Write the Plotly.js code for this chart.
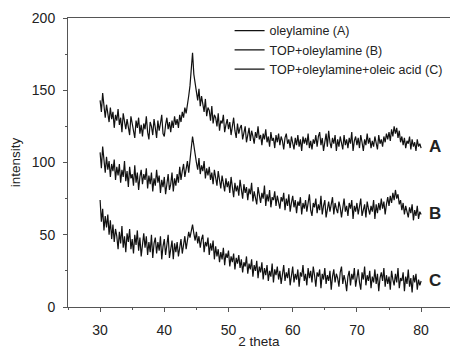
<!DOCTYPE html>
<html>
<head>
<meta charset="utf-8">
<script src="https://cdn.plot.ly/plotly-3.0.1.min.js"></script>
<style>html,body{margin:0;padding:0;background:#fff;}#chart{width:450px;height:349px;}</style>
</head>
<body>
<div id="chart"></div>
<script>
// 2-theta grid: 30 to 80 in steps of 0.2
const thetaStart = 30;
const thetaStep = 0.2;

const seriesNames = ["oleylamine (A)", "TOP+oleylamine (B)", "TOP+oleylamine+oleic acid (C)"];
const curveLabels = ["A", "B", "C"];
const labelY = [111, 65, 18];

const intensityA = [
143,135,148,137,131, 140,133,128,138,130, 135,124,133,129,137, 126,131,121,134,127,
123,130,125,119,132, 128,122,117,129,124, 131,120,126,118,127, 123,132,121,116,128,
125,119,130,124,117, 129,122,127,133,120, 118,126,131,123,128, 121,129,124,132,126,
130,124,133,128,135, 131,138,134,142,146, 153,168,176,161,154, 149,143,151,139,146,
141,135,144,132,138, 136,129,139,127,133, 131,125,134,122,129, 127,133,121,126,130,
123,128,119,125,131, 122,117,127,120,124, 126,116,121,125,114, 120,124,115,122,118,
113,121,117,125,116, 119,112,120,116,123, 114,118,111,121,115, 117,110,119,114,120,
112,118,115,109,117, 120,113,116,110,118, 114,109,117,112,119, 111,116,108,118,113,
117,112,120,110,115, 109,116,113,119,111, 118,121,112,117,108, 115,120,111,122,114,
110,117,113,119,108, 116,111,118,114,109, 119,112,116,110,117, 113,121,108,115,118,
112,117,110,119,114, 108,116,112,120,113, 117,110,115,111,118, 114,109,119,113,116,
111,118,114,120,116, 121,115,123,118,125, 120,124,117,122,114, 118,112,117,110,115,
113,118,109,116,111, 114,108,116,111,113,
110
];

const intensityB = [
107,96,111,100,93, 104,95,101,90,99, 94,102,88,97,91, 99,86,95,90,101,
87,94,83,97,89, 92,84,98,86,93, 81,90,95,85,92, 88,96,82,91,85,
93,80,89,84,95, 86,91,79,88,83, 90,78,87,92,81, 85,93,80,89,84,
92,86,97,88,94, 99,90,96,101,93, 104,110,118,113,106, 100,95,103,92,98,
94,101,89,96,91, 97,88,93,85,95, 90,84,94,87,82, 91,85,80,89,83,
87,79,90,82,76, 86,80,84,77,88, 81,75,85,79,83, 74,82,78,86,73,
80,76,71,83,77, 72,79,75,84,70, 78,73,81,69,76, 74,80,70,77,72,
68,76,73,79,67, 75,70,78,66,72, 77,69,74,65,73, 70,76,64,72,68,
74,66,71,78,67, 63,72,69,75,65, 71,67,77,64,70, 74,62,69,73,66,
70,76,64,72,68, 65,73,69,62,71, 75,66,70,63,72, 68,74,61,70,66,
72,64,69,75,63, 67,71,62,73,68, 64,70,66,74,61, 71,65,72,67,75,
68,73,64,71,76, 70,77,72,79,74, 81,75,78,71,74, 67,72,64,70,66,
62,69,65,71,60, 67,63,70,61,66,
64
];

const intensityC = [
74,59,68,53,63, 55,64,50,60,47, 57,45,54,49,40, 52,44,56,41,49,
38,51,45,54,40, 47,37,50,43,53, 39,48,35,46,51, 41,49,36,45,38,
50,34,44,48,37, 45,39,49,33,42, 47,36,43,50,34, 40,46,33,44,38,
45,35,42,47,37, 43,49,40,47,52, 48,54,57,51,46, 52,44,49,41,47,
50,38,45,42,48, 36,44,39,46,33, 42,35,40,31,38, 33,41,29,37,34,
39,28,35,31,37, 26,34,30,36,27, 33,24,31,28,35, 23,30,26,33,21,
29,25,32,20,28, 24,31,19,27,22, 29,18,25,21,30, 17,26,22,28,19,
25,16,23,29,18, 24,20,27,15,22, 28,17,23,19,26, 14,24,21,29,18,
23,15,27,20,25, 17,28,22,14,24, 21,26,13,23,19, 27,16,22,18,25,
12,21,26,17,23, 20,14,24,28,16, 22,18,11,21,25, 15,23,19,27,14,
21,26,17,12,24, 19,28,15,22,18, 25,13,21,17,26, 16,23,11,20,24,
18,27,14,22,16, 21,12,25,19,15, 23,17,27,13,20, 18,24,11,21,16,
26,14,20,10,22, 17,23,12,19,15,
18
];

const xTicks = [30, 40, 50, 60, 70, 80];
const yTicks = [0, 50, 100, 150, 200];

const thetas = intensityA.map((_, i) => +(thetaStart + i * thetaStep).toFixed(2));
const allSeries = [intensityA, intensityB, intensityC];

const FONT = "Liberation Sans, Arial, Helvetica, sans-serif";

const traces = allSeries.map((vals, k) => ({
  x: thetas,
  y: vals,
  type: "scatter",
  mode: "lines",
  name: seriesNames[k],
  line: {color: "#111", width: 1.2}
}));

const annotations = curveLabels.map((lab, k) => ({
  x: 82.2, y: labelY[k], xref: "x", yref: "y",
  text: "<b>" + lab + "</b>", showarrow: false,
  font: {family: FONT, size: 17, color: "#222"}
}));

const layout = {
  width: 450, height: 349,
  margin: {l: 68, r: 0, t: 18, b: 42},
  paper_bgcolor: "#fff", plot_bgcolor: "#fff",
  showlegend: true,
  legend: {
    x: 0.423, y: 1.007, xanchor: "left", yanchor: "top",
    font: {family: FONT, size: 12.5, color: "#222"},
    bgcolor: "rgba(0,0,0,0)", itemwidth: 30, tracegroupgap: 0
  },
  xaxis: {
    range: [25, 84.5],
    tickvals: xTicks,
    ticks: "outside", ticklen: 4, tickcolor: "#555",
    showline: true, linecolor: "#555", linewidth: 1, mirror: true,
    showgrid: false, zeroline: false,
    tickfont: {family: FONT, size: 14, color: "#222"},
    ticklabelstandoff: 6,
    minor: {dtick: 5, tick0: 0, ticks: "outside", ticklen: 2, tickcolor: "#555", showgrid: false},
    title: {text: "2 theta", font: {family: FONT, size: 13.5, color: "#222"}, standoff: 6}
  },
  yaxis: {
    range: [0, 200],
    tickvals: yTicks,
    ticks: "outside", ticklen: 4, tickcolor: "#555",
    showline: true, linecolor: "#555", linewidth: 1,
    showgrid: false, zeroline: false,
    tickfont: {family: FONT, size: 14, color: "#222"},
    ticklabelstandoff: 5,
    minor: {dtick: 25, tick0: 0, ticks: "outside", ticklen: 2, tickcolor: "#555", showgrid: false},
    title: {text: "intensity", font: {family: FONT, size: 13.5, color: "#222"}, standoff: 8}
  },
  annotations: annotations
};

Plotly.newPlot("chart", traces, layout, {staticPlot: true, displayModeBar: false});
</script>
</body>
</html>
